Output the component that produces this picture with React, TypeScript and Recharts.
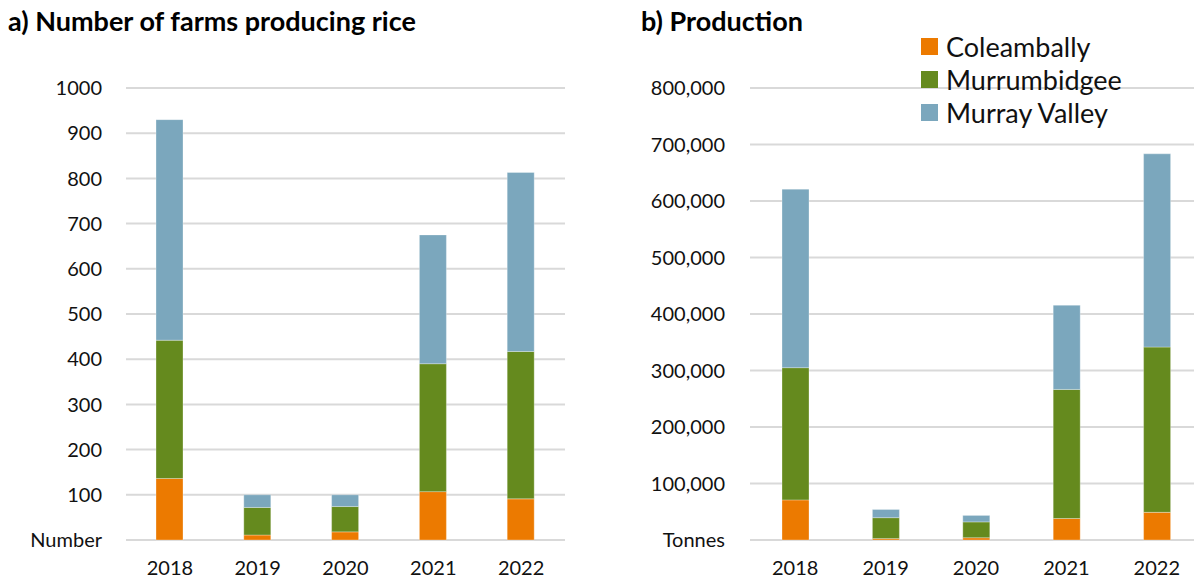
import { Bar, BarChart, CartesianGrid, Legend, XAxis, YAxis } from "recharts";

const years = ["2018", "2019", "2020", "2021", "2022"];
const seriesNames = ["Coleambally", "Murrumbidgee", "Murray Valley"];

// a) number of farms
const farmsColeambally = [136, 11, 18, 107, 91];
const farmsMurrumbidgee = [306, 61, 56, 283, 326];
const farmsMurrayValley = [488, 28, 26, 285, 396];

// b) production (tonnes)
const prodColeambally = [71000, 2500, 4000, 38000, 49000];
const prodMurrumbidgee = [234000, 37000, 28000, 228500, 292500];
const prodMurrayValley = [316000, 14500, 11500, 149000, 342000];

const farmTicks = [0, 100, 200, 300, 400, 500, 600, 700, 800, 900, 1000];
const prodTicks = [0, 100000, 200000, 300000, 400000, 500000, 600000, 700000, 800000];

const colors = ["#EC7A00", "#658A1E", "#7BA7BD"];
const font = "Lato, 'Noto Sans', sans-serif";
const tickStyle = { fontSize: 20, fill: "#111", fontFamily: font };

const farmsData = years.map((y, i) => ({
  year: y,
  Coleambally: farmsColeambally[i],
  Murrumbidgee: farmsMurrumbidgee[i],
  "Murray Valley": farmsMurrayValley[i],
}));

const prodData = years.map((y, i) => ({
  year: y,
  Coleambally: prodColeambally[i],
  Murrumbidgee: prodMurrumbidgee[i],
  "Murray Valley": prodMurrayValley[i],
}));

function LegendBox({ payload }: any) {
  const items = seriesNames
    .map((n) => (payload || []).find((p: any) => p.value === n))
    .filter(Boolean);
  return (
    <div style={{ fontFamily: font, fontSize: 27, color: "#111" }}>
      {items.map((p: any) => (
        <div key={p.value} style={{ display: "flex", alignItems: "center", height: 33 }}>
          <span style={{ width: 17, height: 17, background: p.color, marginRight: 8, display: "inline-block" }} />
          <span style={{ lineHeight: "33px" }}>{p.value}</span>
        </div>
      ))}
    </div>
  );
}

function series() {
  return seriesNames.map((n, i) => (
    <Bar
      key={n}
      dataKey={n}
      stackId="a"
      fill={colors[i]}
      stroke="#fff"
      strokeOpacity={0.5}
      strokeWidth={0.6}
      barSize={27}
      isAnimationActive={false}
    />
  ));
}

export default function App() {
  const titleStyle: any = {
    position: "absolute",
    top: 4,
    fontFamily: font,
    fontWeight: 700,
    fontSize: 27,
    color: "#000",
    whiteSpace: "nowrap",
  };
  return (
    <div style={{ position: "fixed", left: 0, top: 0, width: 1194, height: 583, overflow: "hidden", background: "#fff" }}>
      <div style={{ ...titleStyle, left: 8 }}>a) Number of farms producing rice</div>
      <div style={{ ...titleStyle, left: 641 }}>b) Production</div>

      <div style={{ position: "absolute", left: 0, top: 0 }}>
        <BarChart width={600} height={583} data={farmsData} margin={{ top: 88, right: 35, bottom: 0, left: 0 }}>
          <CartesianGrid vertical={false} stroke="#D9D9D9" strokeWidth={2} />
          <XAxis dataKey="year" axisLine={false} tickLine={false} tickSize={0} tickMargin={21} height={43} tick={tickStyle} />
          <YAxis
            width={126}
            domain={[0, 1000]}
            ticks={farmTicks}
            axisLine={false}
            tickLine={false}
            tickSize={0}
            tickMargin={24}
            tick={tickStyle}
            tickFormatter={(v: number) => (v === 0 ? "Number" : String(v))}
          />
          {series()}
        </BarChart>
      </div>

      <div style={{ position: "absolute", left: 600, top: 0 }}>
        <BarChart width={602} height={583} data={prodData} margin={{ top: 88, right: 0, bottom: 0, left: 0 }}>
          <CartesianGrid vertical={false} stroke="#D9D9D9" strokeWidth={2} />
          <XAxis dataKey="year" axisLine={false} tickLine={false} tickSize={0} tickMargin={21} height={43} tick={tickStyle} />
          <YAxis
            width={150}
            domain={[0, 800000]}
            ticks={prodTicks}
            axisLine={false}
            tickLine={false}
            tickSize={0}
            tickMargin={25}
            tick={tickStyle}
            tickFormatter={(v: number) => (v === 0 ? "Tonnes" : v.toLocaleString("en-US"))}
          />
          <Legend
            layout="horizontal"
            verticalAlign="middle"
            align="center"
            content={<LegendBox />}
            wrapperStyle={{ left: 321, top: 30, width: 260 }}
          />
          {series()}
        </BarChart>
      </div>
    </div>
  );
}
